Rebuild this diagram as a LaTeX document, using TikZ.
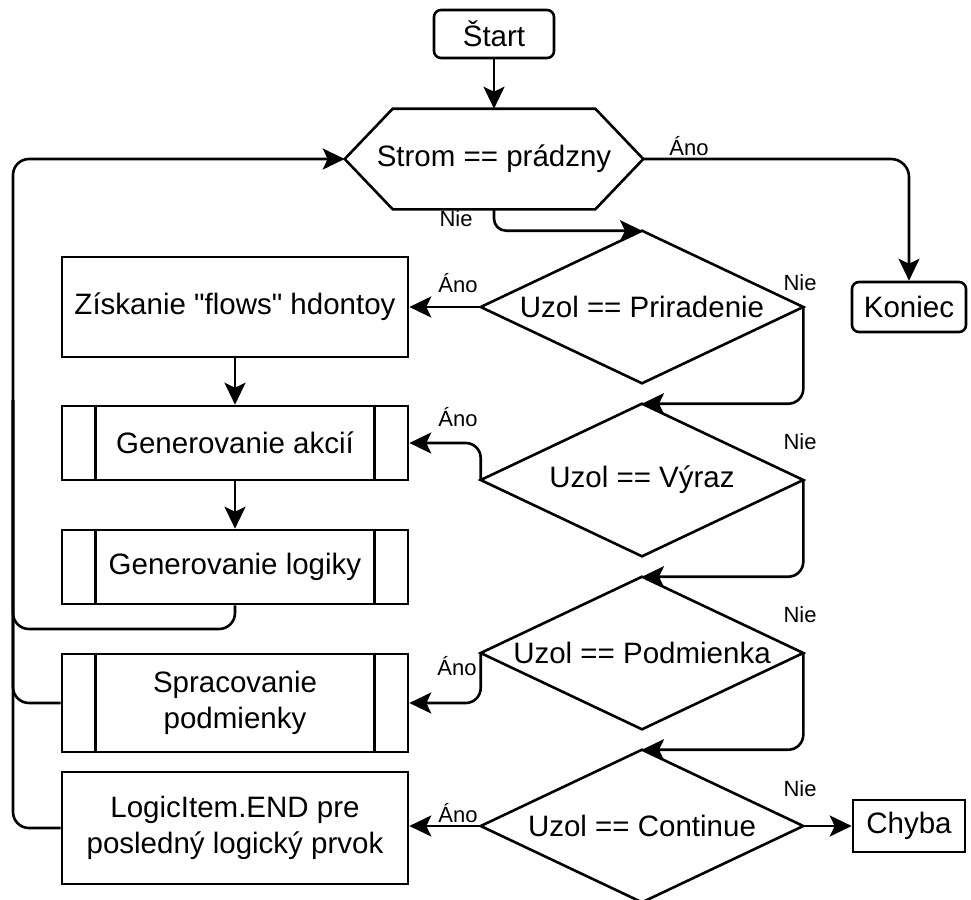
\documentclass[tikz,border=0pt]{standalone}
\usepackage{fontspec}
\setmainfont{Liberation Sans}
\usetikzlibrary{arrows.meta}
\newcommand\sq{\XeTeXglyph\XeTeXglyphindex "quotedbl"\relax}
\begin{document}
\begin{tikzpicture}[x=1pt,y=-1pt,
  line width=2.6pt,
  every node/.style={font=\fontsize{29.5}{36.5}\selectfont, inner sep=0pt, align=center},
  box/.style={draw, minimum width=346pt},
  rbox/.style={draw, rounded corners=7pt, minimum width=114pt, minimum height=50pt},
  sbox/.style={draw, minimum width=112pt, minimum height=52pt},
  lbl/.style={font=\fontsize{22}{26}\selectfont},
  arr/.style={-{Stealth[length=22pt,width=21pt,inset=5pt]}}
]
\useasboundingbox (0,0) rectangle (971,899);

% nodes
\node[rbox, minimum width=120pt, minimum height=48pt] (start) at (494,34) {Štart};
\node[minimum width=296pt, minimum height=98pt] (hex) at (494,159) {Strom == prádzny};
\draw (hex.west) -- ([xshift=48pt]hex.north west) -- ([xshift=-48pt]hex.north east)
  -- (hex.east) -- ([xshift=-48pt]hex.south east) -- ([xshift=48pt]hex.south west) -- cycle;
\node[rbox] (koniec) at (909,307) {Koniec};

\node[minimum width=320pt, minimum height=150pt] (d1) at (642,307) {Uzol == Priradenie};
\draw (d1.north) -- (d1.east) -- (d1.south) -- (d1.west) -- cycle;
\node[minimum width=320pt, minimum height=150pt] (d2) at (642,480) {Uzol == Výraz};
\draw (d2.north) -- (d2.east) -- (d2.south) -- (d2.west) -- cycle;
\node[minimum width=320pt, minimum height=150pt] (d3) at (642,653) {Uzol == Podmienka};
\draw (d3.north) -- (d3.east) -- (d3.south) -- (d3.west) -- cycle;
\node[minimum width=320pt, minimum height=150pt] (d4) at (642,826) {Uzol == Continue};
\draw (d4.north) -- (d4.east) -- (d4.south) -- (d4.west) -- cycle;

\node[box, minimum height=100pt] (box1) at (235,307) {Získanie \sq flows\sq{} hdontoy};
\node[box, minimum height=74pt] (sub1) at (235,443) {Generovanie akcií};
\draw ([xshift=35pt]sub1.north west) -- ([xshift=35pt]sub1.south west);
\draw ([xshift=-35pt]sub1.north east) -- ([xshift=-35pt]sub1.south east);
\node[box, minimum height=74pt] (sub2) at (235,567) {Generovanie logiky};
\draw ([xshift=35pt]sub2.north west) -- ([xshift=35pt]sub2.south west);
\draw ([xshift=-35pt]sub2.north east) -- ([xshift=-35pt]sub2.south east);
\node[box, minimum height=98pt] (sub3) at (235,703) {Spracovanie\\podmienky};
\draw ([xshift=35pt]sub3.north west) -- ([xshift=35pt]sub3.south west);
\draw ([xshift=-35pt]sub3.north east) -- ([xshift=-35pt]sub3.south east);
\node[box, minimum height=112pt] (logic) at (235,828) {LogicItem.END pre\\posledný logický prvok};
\node[sbox] (chyba) at (909,826) {Chyba};

% connectors
\draw[arr] (start) -- (hex.north);
\draw[arr, rounded corners=18pt] (hex.east) -| (koniec.north);
\draw[arr, rounded corners=12pt] (hex.south) |- (d1.north);
\draw[arr] (d1.west) -- (box1.east);
\draw[arr] (box1) -- (sub1);
\draw[arr] (sub1) -- (sub2);
\draw[arr, rounded corners=15pt] (d1.east) |- (d2.north);
\draw[arr, rounded corners=15pt] (d2.west) |- (sub1.east);
\draw[arr, rounded corners=15pt] (d2.east) |- (d3.north);
\draw[arr, rounded corners=15pt] (d3.west) |- (sub3.east);
\draw[arr, rounded corners=15pt] (d3.east) |- (d4.north);
\draw[arr] (d4.west) -- (d4.west -| logic.east);
\draw[arr] (d4.east) -- (chyba.west);

\coordinate (lp1) at (13,629);
\coordinate (lp2) at (13,400);
\draw[arr, rounded corners=16pt] (sub2.south) |- (lp1) |- (hex.west);
\draw[rounded corners=16pt] (sub3.west) -| (lp2);
\draw[rounded corners=16pt] (logic.west) -| (lp2);

% labels
\node[lbl] at (689,146) {Áno};
\node[lbl] at (456,219) {Nie};
\node[lbl] at (458,283) {Áno};
\node[lbl] at (800,283) {Nie};
\node[lbl] at (458,417) {Áno};
\node[lbl] at (800,442) {Nie};
\node[lbl] at (457,666) {Áno};
\node[lbl] at (800,615) {Nie};
\node[lbl] at (458,813) {Áno};
\node[lbl] at (800,789) {Nie};
\end{tikzpicture}
\end{document}
